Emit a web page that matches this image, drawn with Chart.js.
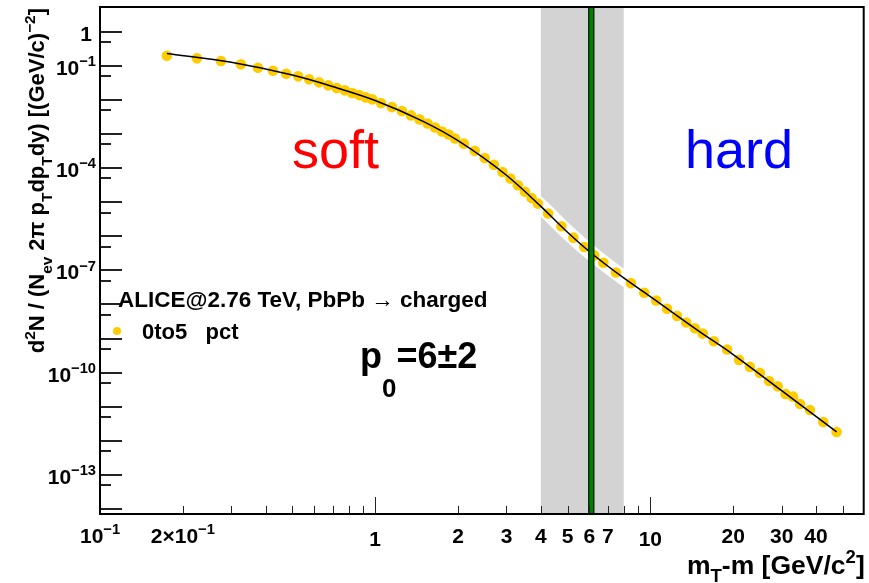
<!DOCTYPE html>
<html>
<head>
<meta charset="utf-8">
<script src="https://cdn.jsdelivr.net/npm/chart.js@4.4.0/dist/chart.umd.min.js"></script>
<style>
html, body { margin: 0; padding: 0; background: #fff; }
#wrap { width: 869px; height: 583px; }
</style>
</head>
<body>
<div id="wrap"><canvas id="chart"></canvas></div>
<script>
// ALICE PbPb 2.76 TeV, charged, 0-5% : bin centres in mT-m and yields
const mtX = [0.175, 0.225, 0.275, 0.325, 0.375, 0.425, 0.475, 0.525, 0.575, 0.625, 0.675, 0.725, 0.775, 0.825, 0.875, 0.925, 0.975,
  1.05, 1.15, 1.25, 1.35, 1.45, 1.55, 1.65, 1.75, 1.85, 1.95,
  2.1, 2.3, 2.5, 2.7, 2.9, 3.1, 3.3, 3.5, 3.7, 3.9,
  4.25, 4.75, 5.25, 5.75, 6.25, 6.75,
  7.5, 8.5, 9.5, 10.5, 11.5, 12.5, 13.5, 14.5, 15.5,
  17, 19, 21, 23, 25, 27, 29, 31, 33, 35, 38, 42.5, 47.5];
const yield0to5 = [0.201, 0.168, 0.140, 0.112, 0.0891, 0.0727, 0.0594, 0.0498, 0.0406, 0.0332, 0.0271, 0.0225, 0.0193, 0.0161, 0.0140, 0.0120, 0.0105,
  0.00816, 0.00622, 0.00475, 0.00355, 0.00271, 0.00206, 0.00157, 0.00120, 0.000980, 0.000748,
  5.26e-4, 3.23e-4, 1.99e-4, 1.26e-4, 7.78e-5, 4.98e-5, 3.16e-5, 2.04e-5, 1.34e-5, 9.16e-6,
  4.69e-6, 1.97e-6, 9.16e-7, 4.85e-7, 2.76e-7, 1.68e-7,
  8.73e-8, 4.23e-8, 2.22e-8, 1.31e-8, 7.47e-9, 4.62e-9, 2.96e-9, 2.0e-9, 1.40e-9,
  8.33e-10, 4.75e-10, 2.36e-10, 1.47e-10, 9.80e-11, 5.70e-11, 3.96e-11, 2.36e-11, 1.97e-11, 1.20e-11, 8.0e-12, 3.55e-12, 1.80e-12];

// fit curve
const fitX = [0.175, 0.3, 0.5, 0.7, 1, 1.5, 2, 3, 4, 5, 6, 8, 10, 15, 20, 30, 47.5];
const fitY = [0.234, 0.13, 0.0543, 0.0251, 0.00977, 0.00234, 6.46e-4, 6.2e-5, 7.6e-6, 1.32e-6, 3.6e-7, 6.0e-8, 1.7e-8, 1.66e-9, 3.4e-10, 2.95e-11, 1.82e-12];

const p0 = 6;
const p0Err = 2;
const p0Marker = 6.1;

const xMajorTicks = [1, 10];
const xMinorTicks = [0.2, 0.3, 0.4, 0.5, 0.6, 0.7, 0.8, 0.9, 2, 3, 4, 5, 6, 7, 8, 9, 20, 30, 40, 50];
const xTickValues = [0.1, 0.2, 1, 2, 3, 4, 5, 6, 7, 10, 20, 30, 40];
const xTickLabels = ['10^{\u22121}', '2\u00d710^{\u22121}', '1', '2', '3', '4', '5', '6', '7', '10', '20', '30', '40'];

const yMajorTicks = [1, 1e-1, 1e-2, 1e-3, 1e-4, 1e-5, 1e-6, 1e-7, 1e-8, 1e-9, 1e-10, 1e-11, 1e-12, 1e-13, 1e-14];
const yMinorTicks = [0.5, 5e-2, 5e-3, 5e-4, 5e-5, 5e-6, 5e-7, 5e-8, 5e-9, 5e-10, 5e-11, 5e-12, 5e-13, 5e-14];
const yTickValues = [1, 1e-1, 1e-4, 1e-7, 1e-10, 1e-13];
const yTickLabels = ['1', '10^{\u22121}', '10^{\u22124}', '10^{\u22127}', '10^{\u221210}', '10^{\u221213}'];

const FONT = '"Liberation Sans", Arial, Helvetica, sans-serif';

// tiny latex-ish text: ^{..} superscript, _{..} subscript
function parseRich(str) {
  const out = [];
  let buf = '';
  let i = 0;
  while (i < str.length) {
    const c = str[i];
    if ((c === '^' || c === '_') && str[i + 1] === '{') {
      if (buf) { out.push({ text: buf, mode: 0 }); buf = ''; }
      const end = str.indexOf('}', i);
      out.push({ text: str.slice(i + 2, end), mode: c === '^' ? 1 : -1 });
      i = end + 1;
    } else {
      buf += c;
      i++;
    }
  }
  if (buf) out.push({ text: buf, mode: 0 });
  return out;
}

function drawRich(ctx, str, x, y, o) {
  const size = o.size;
  const weight = o.weight || 'bold';
  const supScale = o.supScale || 0.7, supRise = o.supRise || 0.42;
  const subScale = o.subScale || 0.7, subDrop = o.subDrop || 0.3;
  const parts = parseRich(str);
  let total = 0;
  for (const p of parts) {
    const s = p.mode === 0 ? size : (p.mode > 0 ? size * supScale : size * subScale);
    ctx.font = weight + ' ' + s + 'px ' + FONT;
    p.size = s;
    p.w = ctx.measureText(p.text).width;
    total += p.w;
  }
  let cx = x;
  if (o.align === 'right') cx = x - total;
  else if (o.align === 'center') cx = x - total / 2;
  ctx.fillStyle = o.color || '#000';
  ctx.textAlign = 'left';
  ctx.textBaseline = 'alphabetic';
  for (const p of parts) {
    ctx.font = weight + ' ' + p.size + 'px ' + FONT;
    let dy = 0;
    if (p.mode > 0) dy = -size * supRise;
    if (p.mode < 0) dy = size * subDrop;
    ctx.fillText(p.text, cx, y + dy);
    cx += p.w;
  }
}

const rootPlot = {
  id: 'rootPlot',
  beforeDatasetsDraw(chart) {
    const { ctx, chartArea: a, scales: { x } } = chart;
    const x1 = x.getPixelForValue(p0 - p0Err);
    const x2 = x.getPixelForValue(p0 + p0Err);
    ctx.save();
    ctx.fillStyle = '#d3d3d3';
    ctx.fillRect(x1, a.top, x2 - x1, a.bottom - a.top);
    ctx.restore();
  },
  afterDatasetsDraw(chart) {
    const { ctx, chartArea: a, scales: { x } } = chart;
    const xc = x.getPixelForValue(p0Marker);
    ctx.save();
    ctx.fillStyle = '#008000';
    ctx.fillRect(xc - 3, a.top, 6, a.bottom - a.top);
    ctx.strokeStyle = '#000';
    ctx.lineWidth = 1;
    ctx.strokeRect(xc - 2.5, a.top, 5, a.bottom - a.top);
    ctx.restore();
  },
  afterDraw(chart) {
    const { ctx, chartArea: a, scales: { x, y } } = chart;
    ctx.save();
    // ticks, pointing inward
    ctx.strokeStyle = '#222';
    ctx.lineWidth = 1;
    ctx.beginPath();
    for (const v of xMajorTicks) {
      const px = Math.round(x.getPixelForValue(v)) + 0.5;
      ctx.moveTo(px, a.bottom); ctx.lineTo(px, a.bottom - 17);
    }
    for (const v of xMinorTicks) {
      const px = Math.round(x.getPixelForValue(v)) + 0.5;
      ctx.moveTo(px, a.bottom); ctx.lineTo(px, a.bottom - 8);
    }
    ctx.stroke();
    ctx.lineWidth = 2;
    ctx.beginPath();
    for (const v of yMajorTicks) {
      const py = Math.round(y.getPixelForValue(v));
      ctx.moveTo(a.left, py); ctx.lineTo(a.left + 22, py);
    }
    for (const v of yMinorTicks) {
      const py = Math.round(y.getPixelForValue(v));
      ctx.moveTo(a.left, py); ctx.lineTo(a.left + 11, py);
    }
    ctx.stroke();
    // frame
    ctx.strokeStyle = '#000';
    ctx.lineWidth = 2;
    ctx.strokeRect(a.left, a.top, a.right - a.left, a.bottom - a.top);

    // tick labels
    xTickValues.forEach((v, i) => {
      const px = x.getPixelForValue(v);
      const dy = (v === 1 || v === 10) ? 3 : 0;
      drawRich(ctx, xTickLabels[i], px, 543 + dy, { size: 21, align: 'center' });
    });
    yTickValues.forEach((v, i) => {
      const py = y.getPixelForValue(v);
      const rx = v === 1 ? 92 : 96;
      drawRich(ctx, yTickLabels[i], rx, py + 9, { size: 21, align: 'right' });
    });

    // axis titles
    drawRich(ctx, 'm_{T}-m [GeV/c^{2}]', a.right + 1, 574, { size: 26.5, align: 'right', subDrop: 0.3 });
    ctx.save();
    ctx.translate(44, 8);
    ctx.rotate(-Math.PI / 2);
    drawRich(ctx, 'd^{2}N / (N_{ev} 2\u03c0 p_{T}dp_{T}dy) [(GeV/c)^{\u22122}]', 0, 0, { size: 22, align: 'right', subDrop: 0.35 });
    ctx.restore();

    // legend
    drawRich(ctx, 'ALICE@2.76 TeV, PbPb \u2192 charged', 118, 307, { size: 22.5 });
    ctx.fillStyle = '#ffcc00';
    ctx.beginPath();
    ctx.arc(117, 331, 4, 0, Math.PI * 2);
    ctx.fill();
    drawRich(ctx, '0to5   pct', 142, 339, { size: 22 });

    // annotations
    drawRich(ctx, 'p_{0}=6\u00b12', 360, 368, { size: 36, subScale: 0.72, subDrop: 0.8 });
    drawRich(ctx, 'soft', 292, 168, { size: 54, weight: 'normal', color: '#ff0000' });
    drawRich(ctx, 'hard', 685, 168, { size: 54, weight: 'normal', color: '#0000ff' });
    ctx.restore();
  }
};

const pts = mtX.map((v, i) => ({ x: v, y: yield0to5[i] }));
const fitPts = fitX.map((v, i) => ({ x: v, y: fitY[i] }));

new Chart(document.getElementById('chart'), {
  type: 'scatter',
  data: {
    datasets: [
      {
        label: 'fit',
        type: 'line',
        data: fitPts,
        borderColor: '#000',
        borderWidth: 1.5,
        pointRadius: 0,
        cubicInterpolationMode: 'monotone',
        order: 1
      },
      {
        label: '0to5   pct',
        data: pts,
        backgroundColor: '#ffcc00',
        borderWidth: 0,
        pointRadius: 5.3,
        order: 2
      },
      {
        label: 'halo',
        type: 'line',
        data: fitPts,
        borderColor: '#ffffff',
        borderWidth: 15,
        pointRadius: 0,
        cubicInterpolationMode: 'monotone',
        order: 3
      }
    ]
  },
  options: {
    responsive: true,
    maintainAspectRatio: false,
    animation: false,
    layout: { padding: { left: 100, right: 3, top: 7, bottom: 69 } },
    scales: {
      x: { type: 'logarithmic', min: 0.1, max: 59.6, display: false },
      y: { type: 'logarithmic', min: 7.08e-15, max: 5.4, display: false }
    },
    plugins: {
      legend: { display: false },
      tooltip: { enabled: false }
    }
  },
  plugins: [rootPlot]
});
</script>
</body>
</html>
